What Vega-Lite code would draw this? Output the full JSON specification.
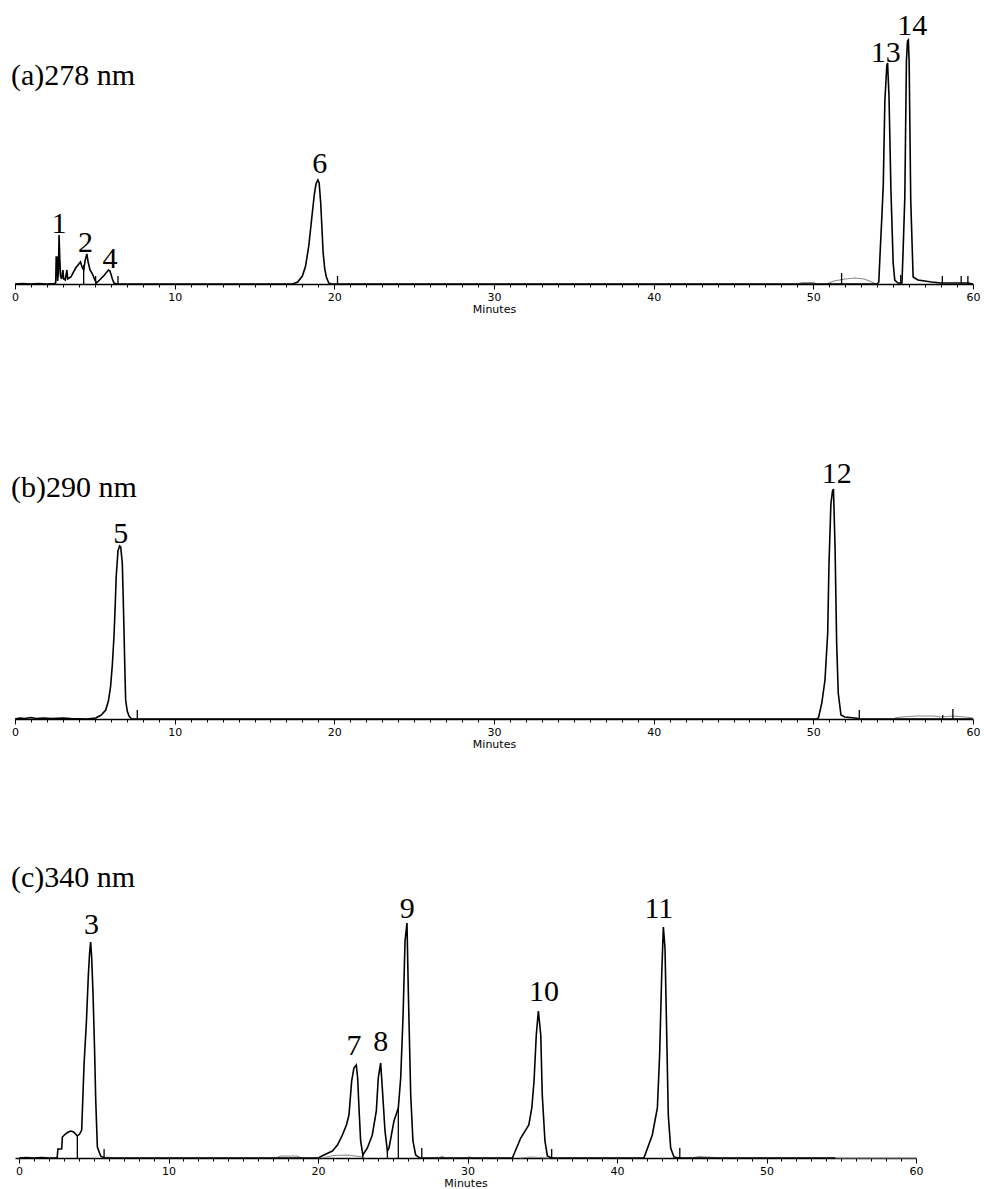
{
  "$schema": "https://vega.github.io/schema/vega-lite/v6.json",
  "autosize": {"type": "pad"},
  "padding": {"left": 10, "top": 10, "right": 5, "bottom": 5},
  "background": "white",
  "bounds": "flush",
  "spacing": 150,
  "config": {
    "view": {"stroke": null},
    "axisX": {
      "grid": false,
      "domainColor": "#000",
      "domainWidth": 1.5,
      "tickColor": "#000",
      "tickWidth": 1,
      "labelFont": "DejaVu Sans",
      "labelFontSize": 11,
      "labelColor": "#000",
      "labelPadding": 2,
      "labelFlush": false,
      "labelOverlap": false,
      "labelBound": false,
      "titleFont": "DejaVu Sans",
      "titleFontSize": 11,
      "titleFontWeight": "normal",
      "titleColor": "#000",
      "titlePadding": 1
    }
  },
  "datasets": {
    "titles": [
      {"panel":"a","label":"(a)278 nm","t":-0.25,"v":199},
      {"panel":"b","label":"(b)290 nm","t":-0.25,"v":222},
      {"panel":"c","label":"(c)340 nm","t":-0.54,"v":271}
    ],
    "a_trace": [
      {"t":0,"v":0},{"t":0.5,"v":0.5},{"t":1,"v":0},{"t":1.5,"v":0.5},{"t":2,"v":0},{"t":2.45,"v":0.5},{"t":2.55,"v":1},{"t":2.58,"v":27},{"t":2.63,"v":27},{"t":2.67,"v":3},{"t":2.72,"v":12},{"t":2.76,"v":49},{"t":2.8,"v":28},{"t":2.85,"v":8},{"t":2.92,"v":5},{"t":3.0,"v":14},{"t":3.05,"v":5},{"t":3.15,"v":4},{"t":3.25,"v":14},{"t":3.3,"v":5},{"t":3.5,"v":7},{"t":3.8,"v":16},{"t":4.0,"v":20},{"t":4.1,"v":22},{"t":4.2,"v":17},{"t":4.3,"v":14},{"t":4.4,"v":24},{"t":4.5,"v":30},{"t":4.58,"v":22},{"t":4.7,"v":14},{"t":4.85,"v":10},{"t":5.0,"v":4},{"t":5.1,"v":1},{"t":5.3,"v":4},{"t":5.6,"v":9},{"t":5.85,"v":14},{"t":5.95,"v":13},{"t":6.1,"v":5},{"t":6.2,"v":1},{"t":6.4,"v":0},{"t":12,"v":0},{"t":17.4,"v":0},{"t":17.7,"v":2},{"t":18.0,"v":8},{"t":18.2,"v":18},{"t":18.4,"v":38},{"t":18.6,"v":68},{"t":18.75,"v":90},{"t":18.85,"v":100},{"t":18.97,"v":104},{"t":19.05,"v":101},{"t":19.15,"v":80},{"t":19.3,"v":31},{"t":19.4,"v":15},{"t":19.5,"v":7},{"t":19.65,"v":1},{"t":19.8,"v":0},{"t":40,"v":0},{"t":54.0,"v":0},{"t":54.1,"v":2},{"t":54.2,"v":37},{"t":54.3,"v":70},{"t":54.38,"v":99},{"t":54.48,"v":183},{"t":54.6,"v":218},{"t":54.65,"v":221},{"t":54.74,"v":187},{"t":54.86,"v":94},{"t":55.0,"v":21},{"t":55.1,"v":4},{"t":55.3,"v":1},{"t":55.55,"v":1},{"t":55.62,"v":32},{"t":55.73,"v":87},{"t":55.83,"v":223},{"t":55.9,"v":243},{"t":55.95,"v":244},{"t":56.0,"v":223},{"t":56.1,"v":84},{"t":56.25,"v":7},{"t":56.55,"v":4},{"t":57.4,"v":2},{"t":58,"v":1},{"t":59.7,"v":1},{"t":60,"v":0}
    ],
    "a_gray": [
      {"seg":1,"t":49.0,"v":0},{"seg":1,"t":49.3,"v":1.5},{"seg":1,"t":50.0,"v":1.5},{"seg":1,"t":50.2,"v":0},
      {"seg":2,"t":50.8,"v":0},{"seg":2,"t":51.3,"v":3},{"seg":2,"t":52.0,"v":5},{"seg":2,"t":52.6,"v":6},{"seg":2,"t":53.2,"v":5},{"seg":2,"t":53.8,"v":1},{"seg":2,"t":54.0,"v":0}
    ],
    "a_marks": [
      {"t":4.3,"v":19},{"t":5.05,"v":8},{"t":6.45,"v":8},{"t":20.2,"v":8},{"t":51.77,"v":11},{"t":55.47,"v":9},{"t":58.08,"v":8},{"t":59.26,"v":8},{"t":59.68,"v":8}
    ],
    "a_labels": [
      {"label":"1","t":2.76,"v":51},{"label":"2","t":4.42,"v":32},{"label":"4","t":5.95,"v":16},{"label":"6","t":19.08,"v":111},{"label":"13","t":54.54,"v":222},{"label":"14","t":56.2,"v":249}
    ],
    "b_trace": [
      {"t":0,"v":0},{"t":0.3,"v":1},{"t":0.6,"v":0.5},{"t":1,"v":1.5},{"t":1.3,"v":0.5},{"t":1.8,"v":1},{"t":2.3,"v":0.5},{"t":3,"v":1},{"t":3.5,"v":0.5},{"t":4.5,"v":0},{"t":5.05,"v":1},{"t":5.4,"v":4},{"t":5.68,"v":9},{"t":5.85,"v":18},{"t":5.99,"v":33},{"t":6.1,"v":55},{"t":6.2,"v":83},{"t":6.28,"v":115},{"t":6.34,"v":143},{"t":6.45,"v":168},{"t":6.55,"v":173},{"t":6.62,"v":172},{"t":6.72,"v":156},{"t":6.78,"v":120},{"t":6.83,"v":86},{"t":6.88,"v":50},{"t":6.93,"v":19},{"t":7.03,"v":8},{"t":7.14,"v":3},{"t":7.3,"v":0},{"t":30,"v":0},{"t":50.2,"v":0},{"t":50.32,"v":1},{"t":50.53,"v":16},{"t":50.73,"v":39},{"t":50.9,"v":86},{"t":50.98,"v":155},{"t":51.1,"v":215},{"t":51.2,"v":228},{"t":51.26,"v":230},{"t":51.36,"v":172},{"t":51.46,"v":76},{"t":51.56,"v":26},{"t":51.73,"v":4},{"t":51.97,"v":2},{"t":52.6,"v":1},{"t":53,"v":0},{"t":60,"v":0}
    ],
    "b_gray": [
      {"seg":1,"t":55.1,"v":1},{"seg":1,"t":55.5,"v":2},{"seg":1,"t":56.5,"v":3},{"seg":1,"t":57.5,"v":3},{"seg":1,"t":58.0,"v":2},{"seg":1,"t":58.7,"v":3},{"seg":1,"t":59.5,"v":2},{"seg":1,"t":60,"v":1}
    ],
    "b_marks": [
      {"t":7.66,"v":9},{"t":52.88,"v":9},{"t":58.1,"v":4},{"t":58.74,"v":10}
    ],
    "b_labels": [
      {"label":"5","t":6.62,"v":176},{"label":"12","t":51.47,"v":236}
    ],
    "c_trace": [
      {"t":0,"v":0},{"t":0.5,"v":0.5},{"t":1,"v":0},{"t":1.5,"v":0.5},{"t":2,"v":0},{"t":2.55,"v":0},{"t":2.6,"v":9},{"t":2.85,"v":9},{"t":2.9,"v":21},{"t":3.1,"v":24},{"t":3.3,"v":26},{"t":3.46,"v":27},{"t":3.65,"v":26},{"t":3.9,"v":22},{"t":4.05,"v":24},{"t":4.19,"v":28},{"t":4.35,"v":94},{"t":4.5,"v":134},{"t":4.64,"v":184},{"t":4.72,"v":205},{"t":4.79,"v":216},{"t":4.86,"v":200},{"t":4.95,"v":164},{"t":5.05,"v":110},{"t":5.13,"v":58},{"t":5.24,"v":11},{"t":5.46,"v":2},{"t":5.7,"v":0},{"t":20,"v":0},{"t":20.4,"v":3},{"t":20.96,"v":7},{"t":21.3,"v":13},{"t":21.63,"v":23},{"t":21.9,"v":33},{"t":22.07,"v":43},{"t":22.25,"v":77},{"t":22.4,"v":90},{"t":22.56,"v":93},{"t":22.65,"v":80},{"t":22.74,"v":50},{"t":22.85,"v":17},{"t":23.0,"v":3},{"t":23.3,"v":10},{"t":23.63,"v":23},{"t":23.9,"v":47},{"t":24.03,"v":80},{"t":24.19,"v":95},{"t":24.3,"v":70},{"t":24.48,"v":27},{"t":24.64,"v":7},{"t":24.75,"v":10},{"t":25.08,"v":37},{"t":25.37,"v":50},{"t":25.53,"v":80},{"t":25.69,"v":143},{"t":25.82,"v":217},{"t":25.95,"v":235},{"t":26.04,"v":167},{"t":26.2,"v":63},{"t":26.35,"v":17},{"t":26.53,"v":3},{"t":26.8,"v":0},{"t":33.0,"v":0},{"t":33.56,"v":20},{"t":34.1,"v":33},{"t":34.3,"v":50},{"t":34.45,"v":77},{"t":34.6,"v":123},{"t":34.74,"v":147},{"t":34.9,"v":123},{"t":35.0,"v":63},{"t":35.18,"v":17},{"t":35.34,"v":2},{"t":35.6,"v":0},{"t":41.8,"v":0},{"t":42.36,"v":23},{"t":42.7,"v":50},{"t":42.85,"v":103},{"t":42.99,"v":183},{"t":43.1,"v":231},{"t":43.21,"v":210},{"t":43.32,"v":127},{"t":43.43,"v":43},{"t":43.59,"v":10},{"t":43.81,"v":1},{"t":44.2,"v":0},{"t":54.6,"v":0}
    ],
    "c_gray": [
      {"seg":1,"t":5.6,"v":0},{"seg":1,"t":5.9,"v":1},{"seg":1,"t":6.3,"v":0},
      {"seg":2,"t":17.2,"v":0},{"seg":2,"t":17.5,"v":2},{"seg":2,"t":18.6,"v":2},{"seg":2,"t":18.9,"v":0},
      {"seg":3,"t":20.3,"v":0},{"seg":3,"t":21,"v":2.5},{"seg":3,"t":22,"v":3},{"seg":3,"t":23,"v":1},
      {"seg":4,"t":28.1,"v":0},{"seg":4,"t":28.3,"v":1.5},{"seg":4,"t":28.5,"v":0},
      {"seg":5,"t":30.0,"v":0},{"seg":5,"t":30.1,"v":1},{"seg":5,"t":30.3,"v":0},
      {"seg":6,"t":33.5,"v":0},{"seg":6,"t":34.2,"v":1},{"seg":6,"t":35.5,"v":0},
      {"seg":7,"t":45,"v":0},{"seg":7,"t":45.5,"v":1.5},{"seg":7,"t":46.5,"v":0.5},
      {"seg":8,"t":54.6,"v":0},{"seg":8,"t":60,"v":0}
    ],
    "c_marks": [
      {"t":3.9,"v":22},{"t":5.69,"v":9},{"t":23.0,"v":3},{"t":24.64,"v":7},{"t":25.37,"v":50},{"t":26.94,"v":10},{"t":35.63,"v":9},{"t":44.2,"v":10}
    ],
    "c_labels": [
      {"label":"3","t":4.85,"v":224},{"label":"7","t":22.41,"v":103},{"label":"8","t":24.19,"v":107},{"label":"9","t":25.97,"v":240},{"label":"10","t":35.12,"v":157},{"label":"11","t":42.8,"v":240}
    ]
  },
  "vconcat": [
    {
      "width": 958,
      "height": 274,
      "encoding": {
        "x": {"field": "t", "type": "quantitative", "scale": {"domain": [0, 60], "nice": false, "zero": false},
          "axis": {"title": "Minutes", "values": [0,1,2,3,4,5,6,7,8,9,10,11,12,13,14,15,16,17,18,19,20,21,22,23,24,25,26,27,28,29,30,31,32,33,34,35,36,37,38,39,40,41,42,43,44,45,46,47,48,49,50,51,52,53,54,55,56,57,58,59,60],
            "labelExpr": "datum.value % 10 === 0 ? datum.label : ''",
            "tickSize": {"condition": {"test": "datum.value % 10 === 0", "value": 5}, "value": 3}}},
        "y": {"field": "v", "type": "quantitative", "scale": {"domain": [0, 274], "nice": false}, "axis": null}
      },
      "layer": [
        {"data": {"name": "a_gray"}, "mark": {"type": "line", "color": "#8a8a8a", "strokeWidth": 1.2}, "encoding": {"detail": {"field": "seg"}}},
        {"data": {"name": "a_trace"}, "mark": {"type": "line", "color": "#000", "strokeWidth": 1.6}, "encoding": {}},
        {"data": {"name": "a_marks"}, "mark": {"type": "rule", "color": "#000", "strokeWidth": 1.3}, "encoding": {"y": {"datum": 0, "type": "quantitative"}, "y2": {"field": "v"}}},
        {"data": {"name": "a_labels"}, "mark": {"type": "text", "font": "Liberation Serif", "fontSize": 30, "baseline": "alphabetic", "align": "center", "color": "#000"}, "encoding": {"text": {"field": "label"}}},
        {"data": {"name": "titles"}, "transform": [{"filter": "datum.panel === 'a'"}], "mark": {"type": "text", "font": "Liberation Serif", "fontSize": 30, "baseline": "alphabetic", "align": "left", "color": "#000"}, "encoding": {"text": {"field": "label"}}}
      ]
    },
    {
      "width": 958,
      "height": 285,
      "encoding": {
        "x": {"field": "t", "type": "quantitative", "scale": {"domain": [0, 60], "nice": false, "zero": false},
          "axis": {"title": "Minutes", "values": [0,1,2,3,4,5,6,7,8,9,10,11,12,13,14,15,16,17,18,19,20,21,22,23,24,25,26,27,28,29,30,31,32,33,34,35,36,37,38,39,40,41,42,43,44,45,46,47,48,49,50,51,52,53,54,55,56,57,58,59,60],
            "labelExpr": "datum.value % 10 === 0 ? datum.label : ''",
            "tickSize": {"condition": {"test": "datum.value % 10 === 0", "value": 5}, "value": 3}}},
        "y": {"field": "v", "type": "quantitative", "scale": {"domain": [0, 285], "nice": false}, "axis": null}
      },
      "layer": [
        {"data": {"name": "b_gray"}, "mark": {"type": "line", "color": "#8a8a8a", "strokeWidth": 1.2}, "encoding": {"detail": {"field": "seg"}}},
        {"data": {"name": "b_trace"}, "mark": {"type": "line", "color": "#000", "strokeWidth": 1.6}, "encoding": {}},
        {"data": {"name": "b_marks"}, "mark": {"type": "rule", "color": "#000", "strokeWidth": 1.3}, "encoding": {"y": {"datum": 0, "type": "quantitative"}, "y2": {"field": "v"}}},
        {"data": {"name": "b_labels"}, "mark": {"type": "text", "font": "Liberation Serif", "fontSize": 30, "baseline": "alphabetic", "align": "center", "color": "#000"}, "encoding": {"text": {"field": "label"}}},
        {"data": {"name": "titles"}, "transform": [{"filter": "datum.panel === 'b'"}], "mark": {"type": "text", "font": "Liberation Serif", "fontSize": 30, "baseline": "alphabetic", "align": "left", "color": "#000"}, "encoding": {"text": {"field": "label"}}}
      ]
    },
    {
      "width": 901,
      "height": 289,
      "encoding": {
        "x": {"field": "t", "type": "quantitative", "scale": {"domain": [-0.27, 60], "nice": false, "zero": false},
          "axis": {"title": "Minutes", "values": [0,1,2,3,4,5,6,7,8,9,10,11,12,13,14,15,16,17,18,19,20,21,22,23,24,25,26,27,28,29,30,31,32,33,34,35,36,37,38,39,40,41,42,43,44,45,46,47,48,49,50,51,52,53,54,55,56,57,58,59,60],
            "labelExpr": "datum.value % 10 === 0 ? datum.label : ''",
            "tickSize": {"condition": {"test": "datum.value % 10 === 0", "value": 5}, "value": 3}}},
        "y": {"field": "v", "type": "quantitative", "scale": {"domain": [0, 289], "nice": false}, "axis": null}
      },
      "layer": [
        {"data": {"name": "c_gray"}, "mark": {"type": "line", "color": "#8a8a8a", "strokeWidth": 1.2}, "encoding": {"detail": {"field": "seg"}}},
        {"data": {"name": "c_trace"}, "mark": {"type": "line", "color": "#000", "strokeWidth": 1.6}, "encoding": {}},
        {"data": {"name": "c_marks"}, "mark": {"type": "rule", "color": "#000", "strokeWidth": 1.3}, "encoding": {"y": {"datum": 0, "type": "quantitative"}, "y2": {"field": "v"}}},
        {"data": {"name": "c_labels"}, "mark": {"type": "text", "font": "Liberation Serif", "fontSize": 30, "baseline": "alphabetic", "align": "center", "color": "#000"}, "encoding": {"text": {"field": "label"}}},
        {"data": {"name": "titles"}, "transform": [{"filter": "datum.panel === 'c'"}], "mark": {"type": "text", "font": "Liberation Serif", "fontSize": 30, "baseline": "alphabetic", "align": "left", "color": "#000"}, "encoding": {"text": {"field": "label"}}}
      ]
    }
  ]
}
